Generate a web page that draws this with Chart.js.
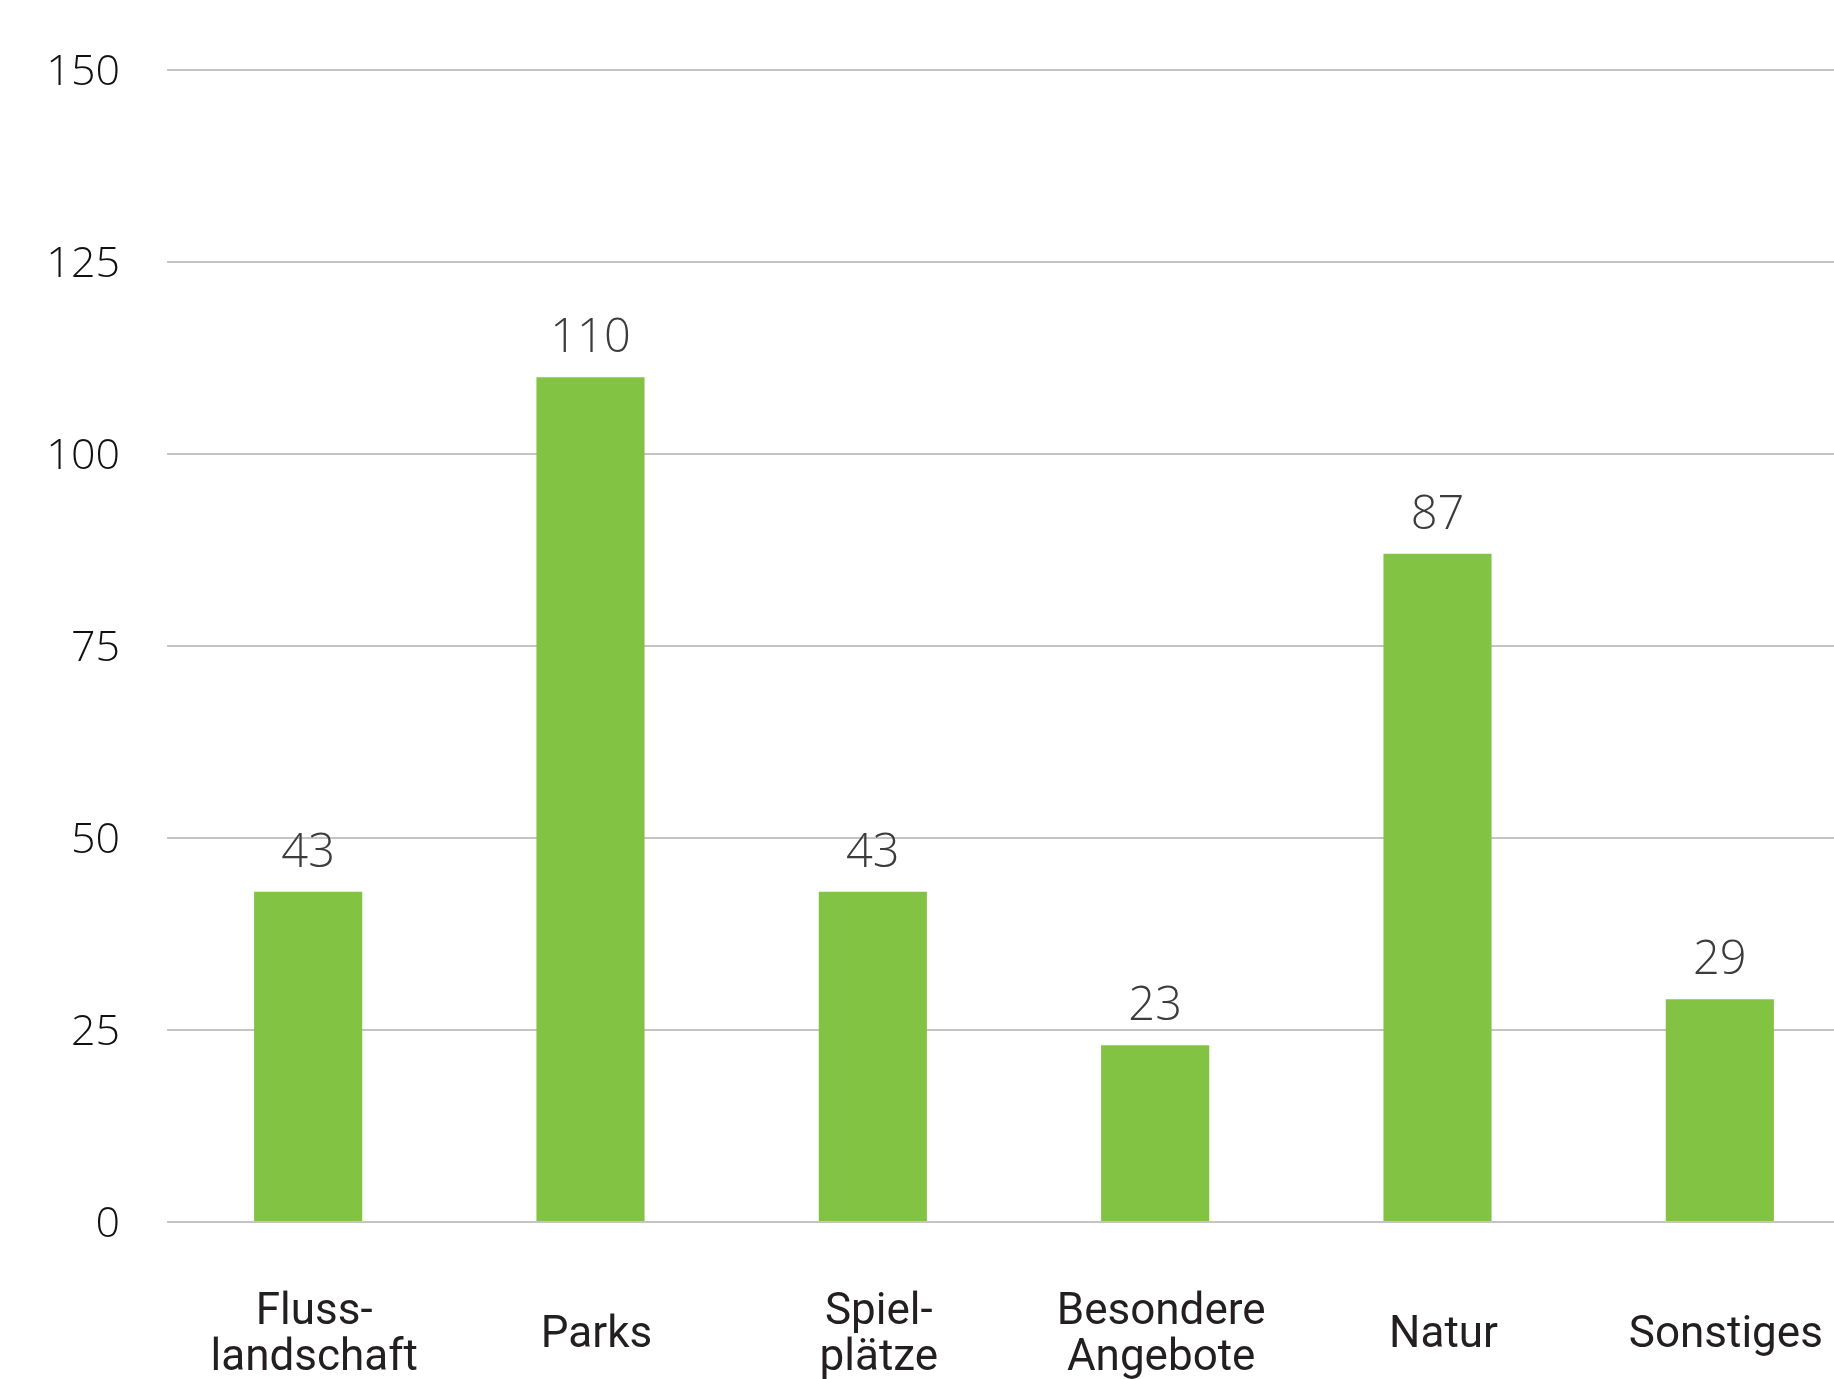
<!DOCTYPE html>
<html lang="de">
<head>
<meta charset="utf-8">
<title>Angebote</title>
<script src="https://cdn.jsdelivr.net/npm/chart.js@4.4.1/dist/chart.umd.min.js"></script>
<style>
  html, body { margin: 0; padding: 0; background: #fff; overflow: hidden; }
  #wrap { position: relative; width: 1861px; height: 1379px; }
</style>
</head>
<body>
<div id="wrap"><canvas id="angeboteChart"></canvas></div>
<script>
// Kategorien (mehrzeilig) und Anzahl je Kategorie
const categories = [
  ['Fluss-', 'landschaft'],
  'Parks',
  ['Spiel-', 'plätze'],
  ['Besondere', 'Angebote'],
  'Natur',
  'Sonstiges'
];
const counts = [43, 110, 43, 23, 87, 29];
const yTicks = [0, 25, 50, 75, 100, 125, 150];

const barGreen = '#83c343';
const gridGrey = '#c4c4c4';

// Zahlenwerte über den Balken
const valueLabels = {
  id: 'valueLabels',
  afterDatasetsDraw(chart) {
    const ctx = chart.ctx;
    const meta = chart.getDatasetMeta(0);
    ctx.save();
    ctx.font = '300 47px "Open Sans", Roboto, sans-serif';
    ctx.fillStyle = '#3c3c3c';
    ctx.textAlign = 'center';
    ctx.textBaseline = 'alphabetic';
    meta.data.forEach((bar, i) => {
      ctx.fillText(String(counts[i]), bar.x, bar.y - 25);
    });
    ctx.restore();
  }
};

const ctx = document.getElementById('angeboteChart').getContext('2d');
new Chart(ctx, {
  type: 'bar',
  data: {
    labels: categories,
    datasets: [{
      data: counts,
      backgroundColor: barGreen,
      borderWidth: 0,
      barPercentage: 0.383,
      categoryPercentage: 1
    }]
  },
  options: {
    responsive: true,
    maintainAspectRatio: false,
    animation: false,
    layout: { padding: { top: 70, right: 0, bottom: 0, left: 0 } },
    plugins: {
      legend: { display: false },
      tooltip: { enabled: false }
    },
    scales: {
      x: {
        grid: { display: false, drawTicks: false },
        border: { display: false },
        afterFit(scale) {
          scale.height = 157;
          // keine Randabstände für die äußeren Beschriftungen
          scale.paddingLeft = 0;
          scale.paddingRight = 0;
        },
        ticks: {
          color: '#231f20',
          padding: 91,
          labelOffset: 6,
          crossAlign: 'center',
          maxRotation: 0,
          autoSkip: false,
          font: { family: 'Roboto, "Open Sans", sans-serif', size: 44, lineHeight: 1.04 }
        }
      },
      y: {
        min: 0,
        max: 150,
        afterFit(scale) {
          scale.width = 167;
          scale.paddingTop = 0;
          scale.paddingBottom = 0;
        },
        afterBuildTicks(scale) { scale.ticks = yTicks.map(v => ({ value: v })); },
        grid: { color: gridGrey, lineWidth: 2, drawTicks: false },
        border: { display: false },
        ticks: {
          color: '#111',
          padding: 47,
          labelOffset: 3,
          font: { family: '"Open Sans", Roboto, sans-serif', size: 43, weight: '300' }
        }
      }
    }
  },
  plugins: [valueLabels]
});
</script>
</body>
</html>
